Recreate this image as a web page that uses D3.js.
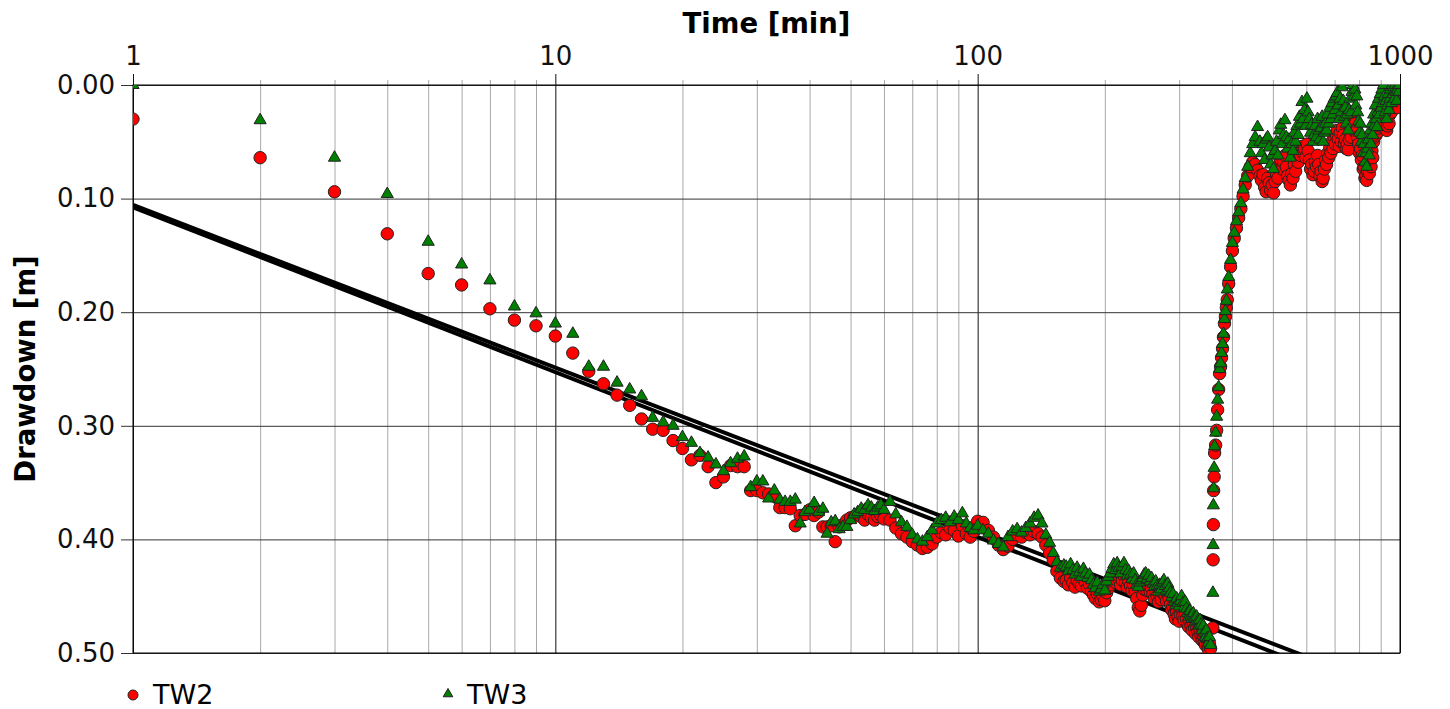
<!DOCTYPE html>
<html>
<head>
<meta charset="utf-8">
<script src="https://cdn.jsdelivr.net/npm/d3@7"></script>
<style>
  html, body { margin: 0; padding: 0; background: #fff; }
  svg { display: block; font-family: "DejaVu Sans", Verdana, sans-serif; }
</style>
</head>
<body>
<svg id="chart" width="1450" height="709"></svg>
<script>
// ---------- data ----------
const xTickValues = [1, 10, 100, 1000];
const yTickValues = [0.0, 0.1, 0.2, 0.3, 0.4, 0.5];
const seriesNames = ["TW2", "TW3"];

// early drawdown (t = 1 .. 160 min)
const timeEarly = [
  1,2,3,4,5,6,7,8,9,10,11,12,13,14,15,16,17,18,19,20,
  21,22,23,24,25,26,27,28,29,30,31,32,33,34,35,36,37,38,39,40,
  41,42,43,44,45,46,47,48,49,50,51,52,53,54,55,56,57,58,59,60,
  62,64,66,68,70,72,74,76,78,80,82,84,86,88,90,92,94,96,98,100,
  103,106,109,112,115,118,121,124,127,130,133,136,139,142,145,148,151,154,157,160
];
const tw2Early = [
  0.030,0.064,0.094,0.131,0.166,0.176,0.197,0.207,0.212,0.221,0.236,0.252,0.263,0.273,0.282,0.294,0.303,0.304,0.313,0.320,
  0.330,0.326,0.336,0.350,0.345,0.335,0.336,0.336,0.357,0.357,0.359,0.360,0.362,0.372,0.372,0.373,0.388,0.379,0.378,0.374,
  0.379,0.376,0.389,0.389,0.388,0.402,0.389,0.387,0.383,0.381,0.380,0.378,0.380,0.383,0.378,0.381,0.383,0.380,0.379,0.382,
  0.383,0.390,0.395,0.398,0.402,0.405,0.408,0.407,0.404,0.398,0.394,0.396,0.390,0.392,0.397,0.388,0.395,0.398,0.393,0.384,
  0.385,0.392,0.398,0.405,0.409,0.406,0.400,0.396,0.398,0.394,0.396,0.393,0.395,0.398,0.405,0.412,0.418,0.428,0.434,0.437
];
const tw3Early = [
  0.000,0.031,0.064,0.096,0.138,0.158,0.172,0.195,0.201,0.210,0.219,0.248,0.248,0.262,0.268,0.274,0.293,0.297,0.300,0.310,
  0.315,0.324,0.328,0.334,0.340,0.333,0.329,0.327,0.354,0.349,0.349,0.364,0.357,0.365,0.367,0.367,0.365,0.386,0.376,0.374,
  0.368,0.376,0.373,0.395,0.385,0.384,0.391,0.389,0.389,0.383,0.378,0.376,0.373,0.374,0.370,0.372,0.375,0.372,0.370,0.374,
  0.367,0.378,0.385,0.389,0.396,0.400,0.402,0.398,0.392,0.386,0.383,0.381,0.385,0.380,0.383,0.377,0.386,0.390,0.392,0.388,
  0.392,0.395,0.401,0.404,0.407,0.398,0.393,0.391,0.394,0.390,0.386,0.381,0.379,0.386,0.396,0.403,0.412,0.420,0.425,0.423
];

// late drawdown (t = 162 .. 356 min, every 2 min)
const timeMid = [
  162,164,166,168,170,172,174,176,178,180,182,184,186,188,190,192,194,196,198,200,
  202,204,206,208,210,212,214,216,218,220,222,224,226,228,230,232,234,236,238,240,
  242,244,246,248,250,252,254,256,258,260,262,264,266,268,270,272,274,276,278,280,
  282,284,286,288,290,292,294,296,298,300,302,304,306,308,310,312,314,316,318,320,
  322,324,326,328,330,332,334,336,338,340,342,344,346,348,350,352,354,356
];
const tw2Mid = [
  0.436,0.440,0.434,0.438,0.442,0.436,0.439,0.441,0.435,0.438,0.443,0.440,0.446,0.449,0.452,0.448,0.455,0.453,0.450,0.454,
  0.447,0.443,0.440,0.436,0.433,0.438,0.431,0.435,0.440,0.436,0.432,0.438,0.442,0.437,0.441,0.445,0.440,0.446,0.452,0.460,
  0.463,0.458,0.449,0.444,0.440,0.445,0.441,0.446,0.443,0.448,0.452,0.446,0.450,0.455,0.449,0.453,0.447,0.444,0.450,0.454,
  0.448,0.452,0.457,0.462,0.459,0.466,0.470,0.464,0.468,0.472,0.466,0.461,0.467,0.471,0.465,0.470,0.475,0.477,0.472,0.476,
  0.480,0.474,0.478,0.483,0.477,0.481,0.486,0.480,0.484,0.489,0.485,0.490,0.493,0.488,0.494,0.497,0.492,0.496
];
const tw3Mid = [
  0.424,0.428,0.422,0.427,0.431,0.425,0.429,0.433,0.426,0.430,0.434,0.431,0.436,0.440,0.443,0.438,0.446,0.444,0.440,0.445,
  0.437,0.433,0.430,0.426,0.422,0.427,0.421,0.425,0.430,0.424,0.421,0.427,0.432,0.428,0.431,0.435,0.430,0.436,0.440,0.442,
  0.438,0.436,0.434,0.431,0.430,0.435,0.432,0.437,0.434,0.439,0.442,0.437,0.441,0.446,0.440,0.444,0.438,0.436,0.441,0.445,
  0.439,0.443,0.447,0.451,0.448,0.455,0.458,0.452,0.456,0.459,0.454,0.450,0.456,0.460,0.455,0.461,0.465,0.468,0.463,0.467,
  0.470,0.465,0.469,0.473,0.468,0.472,0.476,0.471,0.475,0.480,0.476,0.482,0.486,0.480,0.487,0.491,0.486,0.493
];

// recovery (t = 360.5 .. 466 min)
const timeRecovery = [
  360.5,361,361.5,362,363,364,366,368,370,372,374,376,378,380,382,384,386,388,390,393,
  397,401,405,410,415,420,425,430,436,442,448,454,460,466
];
const tw2Recovery = [
  0.478,0.418,0.387,0.357,0.345,0.324,0.317,0.304,0.286,0.268,0.254,0.248,0.240,0.232,0.222,0.210,0.204,0.196,0.189,0.175,
  0.160,0.146,0.135,0.126,0.117,0.109,0.098,0.088,0.080,0.072,0.068,0.070,0.075,0.080
];
const tw3Recovery = [
  0.447,0.405,0.370,0.355,0.337,0.318,0.306,0.292,0.277,0.266,0.250,0.245,0.236,0.228,0.219,0.206,0.199,0.190,0.180,0.169,
  0.154,0.139,0.130,0.120,0.112,0.104,0.092,0.082,0.072,0.060,0.052,0.046,0.037,0.050
];

// late recovery (t = 470 .. 998 min, every 4 min)
const timeLate = [
  470,474,478,482,486,490,494,498,502,506, 510,514,518,522,526,530,534,538,542,546,
  550,554,558,562,566,570,574,578,582,586, 590,594,598,602,606,610,614,618,622,626,
  630,634,638,642,646,650,654,658,662,666, 670,674,678,682,686,690,694,698,702,706,
  710,714,718,722,726,730,734,738,742,746, 750,754,758,762,766,770,774,778,782,786,
  790,794,798,802,806,810,814,818,822,826, 830,834,838,842,846,850,854,858,862,866,
  870,874,878,882,886,890,894,898,902,906, 910,914,918,922,926,930,934,938,942,946,
  950,954,958,962,966,970,974,978,982,986, 990,994,998
];
const tw2Late = [
  0.084,0.079,0.090,0.094,0.082,0.086,0.093,0.088,0.095,0.085, 0.078,0.082,0.070,0.066,0.074,0.068,0.062,0.072,0.080,0.084,
  0.088,0.078,0.082,0.070,0.076,0.064,0.068,0.058,0.062,0.054, 0.060,0.056,0.064,0.052,0.058,0.066,0.074,0.070,0.079,0.076,
  0.068,0.072,0.062,0.070,0.080,0.076,0.085,0.082,0.074,0.066, 0.070,0.060,0.064,0.055,0.060,0.050,0.056,0.046,0.052,0.044,
  0.040,0.048,0.054,0.042,0.050,0.038,0.044,0.052,0.048,0.056, 0.052,0.057,0.048,0.040,0.046,0.036,0.032,0.038,0.034,0.042,
  0.040,0.046,0.052,0.060,0.056,0.066,0.062,0.074,0.072,0.082, 0.080,0.084,0.076,0.070,0.078,0.064,0.072,0.058,0.064,0.050,
  0.046,0.040,0.044,0.042,0.038,0.032,0.036,0.028,0.032,0.024, 0.028,0.022,0.026,0.034,0.030,0.040,0.036,0.028,0.034,0.026,
  0.020,0.024,0.012,0.004,0.010,0.018,0.008,0.012,0.020,0.010, 0.008,0.012,0.004
];
const tw3Late = [
  0.060,0.052,0.066,0.048,0.046,0.055,0.070,0.062,0.074,0.058, 0.050,0.062,0.040,0.035,0.052,0.044,0.031,0.046,0.056,0.048,
  0.064,0.052,0.058,0.042,0.050,0.036,0.044,0.028,0.034,0.015, 0.030,0.022,0.036,0.012,0.024,0.030,0.042,0.035,0.050,0.044,
  0.036,0.046,0.030,0.040,0.048,0.038,0.028,0.050,0.042,0.034, 0.040,0.026,0.034,0.020,0.030,0.016,0.026,0.012,0.022,0.010,
  0.007,0.018,0.030,0.012,0.024,0.002,0.014,0.028,0.020,0.034, 0.026,0.040,0.022,0.012,0.024,0.006,0.000,0.010,0.004,0.018,
  0.010,0.024,0.032,0.042,0.034,0.050,0.044,0.060,0.052,0.068, 0.060,0.072,0.056,0.048,0.062,0.040,0.052,0.034,0.044,0.026,
  0.036,0.018,0.030,0.037,0.024,0.012,0.026,0.008,0.020,0.004, 0.016,0.000,0.010,0.024,0.014,0.030,0.018,0.008,0.022,0.012,
  0.004,0.016,0.000,0.008,0.002,0.012,0.000,0.006,0.014,0.004, 0.000,0.006,0.000
];

// straight-line fits: drawdown at t = 1 and t = 1000 min
const fitTimes = [1, 1000];
const fitLineA = [0.1077, 0.5430];
const fitLineB = [0.1056, 0.5349];

// ---------- assemble ----------
const segments = [
  [timeEarly, tw2Early, tw3Early],
  [timeMid, tw2Mid, tw3Mid],
  [timeRecovery, tw2Recovery, tw3Recovery],
  [timeLate, tw2Late, tw3Late]
];
segments.forEach((s, k) => {
  if (s[0].length !== s[1].length || s[0].length !== s[2].length)
    throw new Error(`segment ${k}: ${s[0].length} ${s[1].length} ${s[2].length}`);
});
const tw2 = segments.flatMap(s => s[0].map((t, i) => [t, s[1][i]]));
const tw3 = segments.flatMap(s => s[0].map((t, i) => [t, s[2][i]]));

// ---------- chart ----------
const svg = d3.select("#chart");
const pL = 133, pR = 1400, pT = 85, pB = 653;
const x = d3.scaleLog().domain([1, 1000]).range([pL, pR]);
const y = d3.scaleLinear().domain([0, 0.5]).range([pT, pB]);

svg.append("defs").append("clipPath").attr("id", "plotClip")
  .append("rect").attr("x", pL).attr("y", pT)
  .attr("width", pR - pL).attr("height", pB - pT);

const minorTicks = [];
[1, 10, 100].forEach(d => { for (let k = 2; k <= 9; k++) minorTicks.push(d * k); });

const grid = svg.append("g");
grid.append("g")
  .attr("transform", `translate(0,${pT})`)
  .call(d3.axisTop(x).tickValues(minorTicks).tickFormat(""))
  .call(g => g.select(".domain").remove())
  .call(g => g.selectAll(".tick line").attr("stroke", "#a8a8a8").attr("stroke-width", 1)
      .attr("y1", pB - pT).attr("y2", -5));

grid.append("g")
  .attr("transform", `translate(0,${pT})`)
  .call(d3.axisTop(x).tickValues(xTickValues).tickFormat(""))
  .call(g => g.select(".domain").remove())
  .call(g => g.selectAll(".tick line").attr("stroke", "#111").attr("stroke-width", 1)
      .attr("y1", pB - pT).attr("y2", -11));

grid.append("g")
  .attr("transform", `translate(${pL},0)`)
  .call(d3.axisLeft(y).tickValues(yTickValues).tickFormat(""))
  .call(g => g.select(".domain").remove())
  .call(g => g.selectAll(".tick line").attr("stroke", "#333").attr("stroke-width", 1)
      .attr("x1", pR - pL).attr("x2", -12));

svg.append("rect").attr("x", pL).attr("y", pT)
  .attr("width", pR - pL).attr("height", pB - pT)
  .attr("fill", "none").attr("stroke", "#000").attr("stroke-width", 1);

const xAxisG = svg.append("g").attr("transform", `translate(0,${pT})`)
  .call(d3.axisTop(x).tickValues(xTickValues).tickFormat(d3.format("d")).tickSize(11).tickPadding(9));
xAxisG.select(".domain").remove();
xAxisG.selectAll(".tick line").remove();
xAxisG.selectAll("text").attr("font-size", 26).attr("fill", "#111")
  .attr("font-family", "DejaVu Sans, Verdana, sans-serif");

const yAxisG = svg.append("g").attr("transform", `translate(${pL},0)`)
  .call(d3.axisLeft(y).tickValues(yTickValues).tickFormat(d3.format(".2f")).tickSize(12).tickPadding(6));
yAxisG.select(".domain").remove();
yAxisG.selectAll(".tick line").remove();
yAxisG.selectAll("text").attr("font-size", 26).attr("fill", "#111")
  .attr("font-family", "DejaVu Sans, Verdana, sans-serif");

svg.append("text").attr("x", (pL + pR) / 2).attr("y", 33)
  .attr("text-anchor", "middle").attr("font-size", 27.5).attr("font-weight", "bold")
  .text("Time [min]");
svg.append("text")
  .attr("transform", `translate(35,${(pT + pB) / 2}) rotate(-90)`)
  .attr("text-anchor", "middle").attr("font-size", 27.5).attr("font-weight", "bold")
  .text("Drawdown [m]");

const plot = svg.append("g").attr("clip-path", "url(#plotClip)");

const lineGen = d3.line().x(d => x(d[0])).y(d => y(d[1]));
[fitLineA, fitLineB].forEach(vals => {
  plot.append("path")
    .datum(fitTimes.map((t, i) => [t, vals[i]]))
    .attr("d", lineGen)
    .attr("fill", "none").attr("stroke", "#000").attr("stroke-width", 4);
});

plot.append("g").selectAll("circle").data(tw2).join("circle")
  .attr("cx", d => x(d[0])).attr("cy", d => y(d[1])).attr("r", 6.2)
  .attr("fill", "#ff0000").attr("stroke", "#222").attr("stroke-width", 1);

const tri = d3.symbol().type(d3.symbolTriangle).size(64);
plot.append("g").selectAll("path").data(tw3).join("path")
  .attr("transform", d => `translate(${x(d[0])},${y(d[1])})`)
  .attr("d", tri)
  .attr("fill", "#008000").attr("stroke", "#222").attr("stroke-width", 1);

const leg = svg.append("g");
leg.append("circle").attr("cx", 133).attr("cy", 695).attr("r", 5)
  .attr("fill", "#ff0000").attr("stroke", "#222").attr("stroke-width", 1);
leg.append("text").attr("x", 153).attr("y", 704).attr("font-size", 27).text(seriesNames[0]);
leg.append("path").attr("transform", "translate(448,694)")
  .attr("d", d3.symbol().type(d3.symbolTriangle).size(40))
  .attr("fill", "#008000").attr("stroke", "#222").attr("stroke-width", 1);
leg.append("text").attr("x", 467).attr("y", 704).attr("font-size", 27).text(seriesNames[1]);
</script>
</body>
</html>
